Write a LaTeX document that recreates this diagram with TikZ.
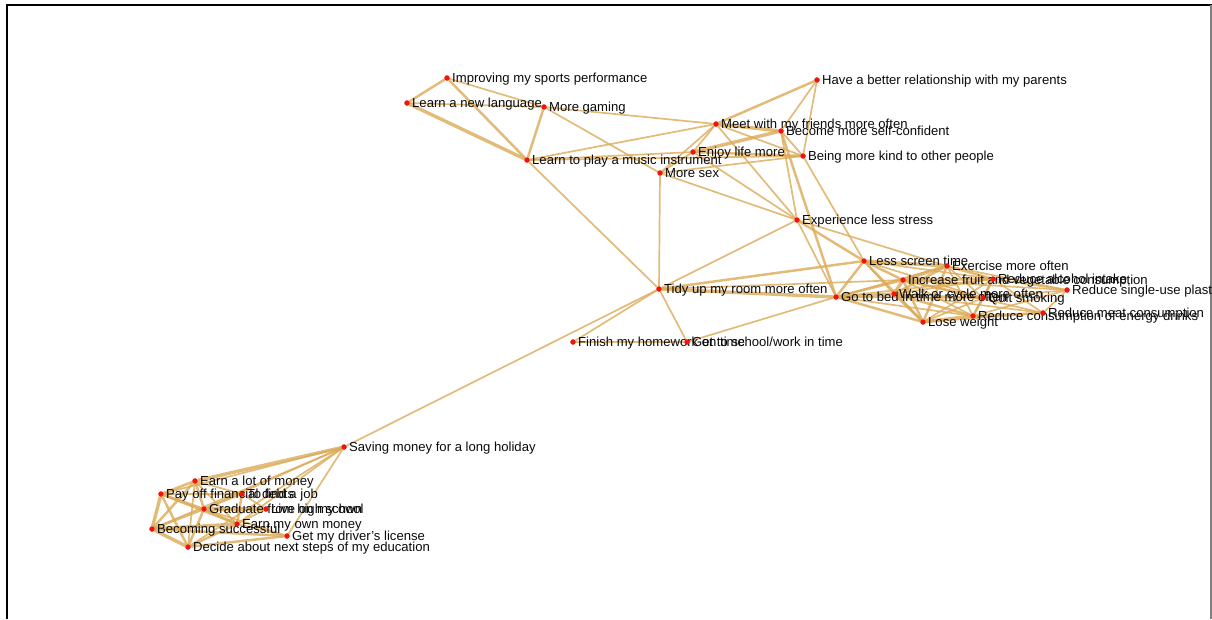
\documentclass[tikz,border=0pt]{standalone}
\usepackage{fontspec}
\setmainfont{Liberation Sans}
\definecolor{edgec}{RGB}{220,170,88}
\definecolor{dotc}{RGB}{240,20,10}
\definecolor{txtc}{RGB}{10,10,10}
\begin{document}
\begin{tikzpicture}[x=1pt,y=-1pt,
  dot/.style={circle,fill=dotc,draw=none,inner sep=0pt,minimum size=5pt},
  lbl/.style={font=\fontsize{13.1}{13}\selectfont,text=txtc,inner sep=0pt,text height=10pt,text depth=1pt},
  ea/.style={draw=edgec,line width=1.7pt,opacity=0.8},
  eb/.style={draw=edgec,line width=2.5pt,opacity=0.8},
  ec/.style={draw=edgec,line width=3.4pt,opacity=0.8},
  frameline/.style={draw=black,line width=2pt},
]
\useasboundingbox (0,0) rectangle (1212,619);
% frame
\draw[frameline] (6.5,619) -- (6.5,4.5) -- (1212,4.5);
\draw[draw=gray,line width=1.5pt] (1211,4.5) -- (1211,619);

% nodes (dots)
\node[dot] (imp) at (447,78) {};
\node[dot] (lang) at (407,103) {};
\node[dot] (gam) at (544,107) {};
\node[dot] (mus) at (527,160) {};
\node[dot] (sex) at (660,173) {};
\node[dot] (enj) at (693,152) {};
\node[dot] (meet) at (716,124) {};
\node[dot] (conf) at (781,131) {};
\node[dot] (kind) at (803,156) {};
\node[dot] (par) at (817,80) {};
\node[dot] (str) at (797,220) {};
\node[dot] (tidy) at (659,289) {};
\node[dot] (hw) at (573,342) {};
\node[dot] (sch) at (687,342) {};
\node[dot] (bed) at (836,297) {};
\node[dot] (scr) at (864,261) {};
\node[dot] (ex) at (947,266) {};
\node[dot] (fru) at (903,280) {};
\node[dot] (alc) at (993,279) {};
\node[dot] (walk) at (894,294) {};
\node[dot] (smk) at (983,298) {};
\node[dot] (pla) at (1067,290) {};
\node[dot] (meat) at (1043,313) {};
\node[dot] (nrg) at (973,316) {};
\node[dot] (lose) at (923,322) {};
\node[dot] (sav) at (344,447) {};
\node[dot] (lot) at (195,481) {};
\node[dot] (debt) at (161,494) {};
\node[dot] (job) at (242,494) {};
\node[dot] (grad) at (204,509) {};
\node[dot] (live) at (266,509) {};
\node[dot] (own) at (237,524) {};
\node[dot] (succ) at (152,529) {};
\node[dot] (drv) at (287,536) {};
\node[dot] (edu) at (188,547) {};

% edges
\path[eb] (imp) -- (lang);
\path[ea] (imp) -- (gam);
\path[eb] (imp) -- (mus);
\path[ea] (lang) -- (gam);
\path[ec] (lang) -- (mus);
\path[eb] (gam) -- (mus);
\path[ea] (gam) -- (sex);
\path[ea] (gam) -- (meet);
\path[ea] (mus) -- (tidy);
\path[ea] (mus) -- (enj);
\path[ea] (mus) -- (kind);
\path[ea] (mus) -- (meet);
\path[eb] (meet) -- (par);
\path[ec] (meet) -- (conf);
\path[ea] (meet) -- (kind);
\path[ea] (meet) -- (enj);
\path[ea] (meet) -- (sex);
\path[ea] (meet) -- (str);
\path[ea] (par) -- (conf);
\path[ea] (par) -- (kind);
\path[ec] (enj) -- (conf);
\path[eb] (enj) -- (kind);
\path[ea] (enj) -- (sex);
\path[ea] (enj) -- (str);
\path[ea] (conf) -- (str);
\path[eb] (conf) -- (bed);
\path[ea] (conf) -- (kind);
\path[ea] (kind) -- (scr);
\path[ea] (kind) -- (sex);
\path[ea] (sex) -- (tidy);
\path[ea] (sex) -- (str);
\path[ea] (str) -- (tidy);
\path[eb] (str) -- (scr);
\path[ea] (str) -- (ex);
\path[ea] (str) -- (bed);
\path[ea] (tidy) -- (hw);
\path[ea] (tidy) -- (sch);
\path[ea] (tidy) -- (sav);
\path[ec] (tidy) -- (bed);
\path[eb] (tidy) -- (scr);
\path[ea] (tidy) -- (fru);
\path[eb] (hw) -- (sch);
\path[ea] (sch) -- (bed);
% right cluster
\path[eb] (bed) -- (scr);
\path[eb] (bed) -- (fru);
\path[ec] (bed) -- (walk);
\path[eb] (bed) -- (lose);
\path[ea] (bed) -- (ex);
\path[ea] (bed) -- (alc);
\path[ea] (bed) -- (smk);
\path[ea] (bed) -- (nrg);
\path[ec] (scr) -- (ex);
\path[eb] (scr) -- (fru);
\path[ea] (scr) -- (walk);
\path[eb] (scr) -- (lose);
\path[ea] (scr) -- (alc);
\path[ea] (scr) -- (smk);
\path[ec] (ex) -- (fru);
\path[eb] (ex) -- (alc);
\path[eb] (ex) -- (walk);
\path[ea] (ex) -- (smk);
\path[eb] (ex) -- (lose);
\path[ea] (ex) -- (nrg);
\path[ea] (ex) -- (pla);
\path[eb] (fru) -- (alc);
\path[ec] (fru) -- (walk);
\path[eb] (fru) -- (lose);
\path[ea] (fru) -- (nrg);
\path[eb] (fru) -- (smk);
\path[ea] (fru) -- (meat);
\path[ea] (fru) -- (pla);
\path[eb] (alc) -- (smk);
\path[ea] (alc) -- (pla);
\path[ea] (alc) -- (nrg);
\path[ea] (alc) -- (walk);
\path[ea] (alc) -- (meat);
\path[ea] (alc) -- (lose);
\path[eb] (walk) -- (lose);
\path[eb] (walk) -- (nrg);
\path[ea] (walk) -- (smk);
\path[ea] (walk) -- (meat);
\path[eb] (smk) -- (nrg);
\path[ea] (smk) -- (lose);
\path[ea] (smk) -- (pla);
\path[ea] (pla) -- (meat);
\path[ea] (pla) -- (nrg);
\path[eb] (meat) -- (nrg);
\path[ea] (meat) -- (lose);
\path[ec] (nrg) -- (lose);
% bottom cluster
\path[ec] (sav) -- (lot);
\path[ea] (sav) -- (debt);
\path[ea] (sav) -- (grad);
\path[ea] (sav) -- (own);
\path[ea] (sav) -- (drv);
\path[ea] (sav) -- (edu);
\path[ea] (sav) -- (succ);
\path[eb] (lot) -- (debt);
\path[ea] (lot) -- (job);
\path[eb] (lot) -- (grad);
\path[eb] (lot) -- (succ);
\path[ea] (lot) -- (own);
\path[ea] (lot) -- (edu);
\path[eb] (debt) -- (grad);
\path[ec] (debt) -- (succ);
\path[eb] (debt) -- (edu);
\path[ea] (debt) -- (job);
\path[eb] (debt) -- (own);
\path[ea] (job) -- (grad);
\path[eb] (job) -- (own);
\path[ea] (job) -- (live);
\path[eb] (grad) -- (own);
\path[eb] (grad) -- (succ);
\path[eb] (grad) -- (edu);
\path[ec] (grad) -- (live);
\path[ea] (grad) -- (drv);
\path[ea] (live) -- (own);
\path[ec] (own) -- (succ);
\path[eb] (own) -- (edu);
\path[ea] (own) -- (drv);
\path[ec] (succ) -- (edu);
\path[eb] (succ) -- (drv);
\path[eb] (drv) -- (edu);

% labels
\foreach \n/\t in {imp/Improving my sports performance, lang/Learn a new language, gam/More gaming,
  mus/Learn to play a music instrument, sex/More sex, enj/Enjoy life more,
  meet/Meet with my friends more often, conf/Become more self-confident,
  kind/Being more kind to other people, par/Have a better relationship with my parents,
  str/Experience less stress, tidy/Tidy up my room more often, hw/Finish my homework on time,
  sch/Get to school\slash work in time, bed/Go to bed in time more often, scr/Less screen time,
  ex/Exercise more often, fru/Increase fruit and vegetable consumption, alc/Reduce alcohol intake,
  walk/Walk or cycle more often, smk/Quit smoking, pla/Reduce single-use plastic,
  meat/Reduce meat consumption, nrg/Reduce consumption of energy drinks, lose/Lose weight,
  sav/Saving money for a long holiday, lot/Earn a lot of money, debt/Pay off financial debts,
  job/To find a job, grad/Graduate from high school, live/Live on my own,
  own/Earn my own money, succ/Becoming successful, drv/Get my driver’s license,
  edu/Decide about next steps of my education}
  {\node[lbl,anchor=west] (\n-l) at ([xshift=5pt]\n.center) {\t};}

% redraw dots on top
\foreach \n in {imp,lang,gam,mus,sex,enj,meet,conf,kind,par,str,tidy,hw,sch,bed,scr,ex,fru,alc,walk,smk,pla,meat,nrg,lose,sav,lot,debt,job,grad,live,own,succ,drv,edu}
  {\fill[dotc] (\n.center) circle (2.7pt);}
\end{tikzpicture}
\end{document}
